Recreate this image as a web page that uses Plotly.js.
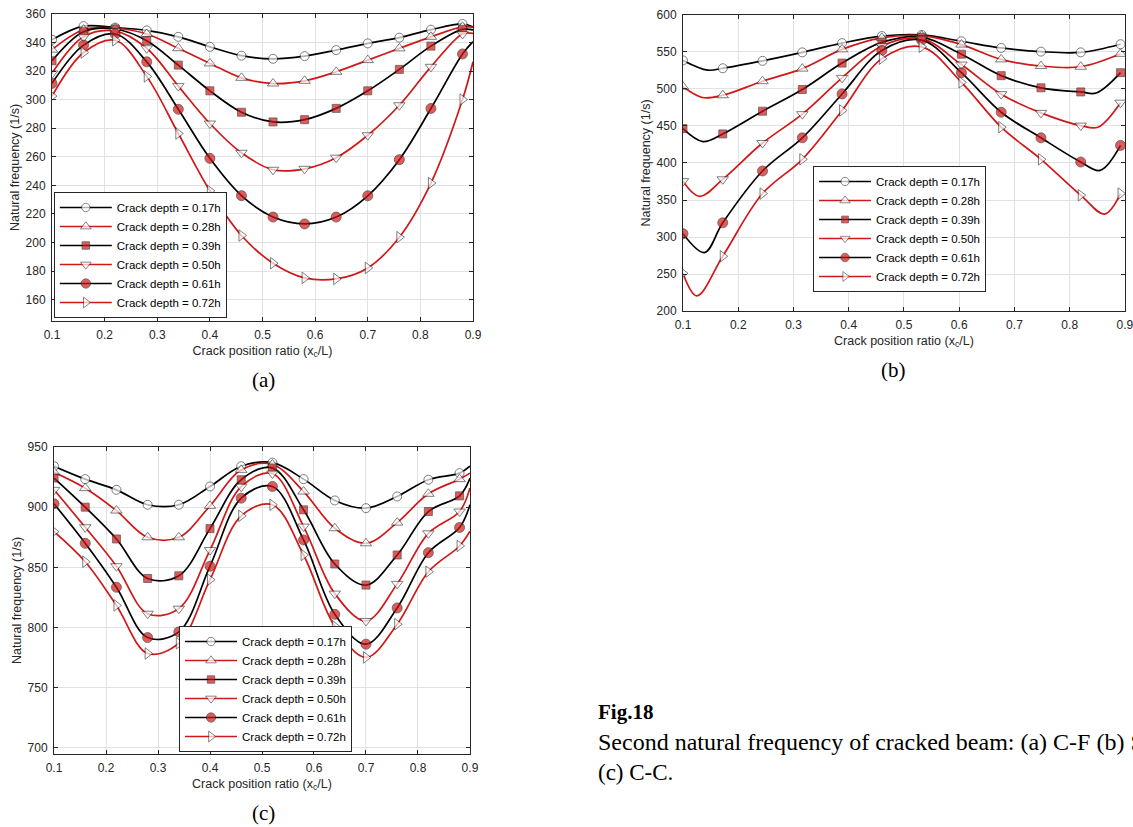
<!DOCTYPE html>
<html>
<head>
<meta charset="utf-8">
<script src="https://cdn.plot.ly/plotly-3.0.1.min.js"></script>
<style>
html,body{margin:0;padding:0;background:#fff;}
#chart{width:1133px;height:827px;}
</style>
</head>
<body>
<div id="chart"></div>
<script>
// ---------- legend labels ----------
const depthLabels = ['Crack depth = 0.17h','Crack depth = 0.28h','Crack depth = 0.39h',
                     'Crack depth = 0.50h','Crack depth = 0.61h','Crack depth = 0.72h'];

// ---------- (a) C-F ----------
const xA = [0.10,0.16,0.22,0.28,0.34,0.40,0.46,0.52,0.58,0.64,0.70,0.76,0.82,0.88];
const a017 = [342,351.5,350.5,348.5,344,337,330.8,328.6,330.5,334.7,339.4,343.4,349,353];
const a028 = [335,349,350,346,336,325.4,315.3,311.3,313.2,319.5,327.7,335.9,344,351];
const a039 = [327.2,347.6,349.5,341.3,324.2,306.2,291.2,284.4,286,293.9,306.2,321.2,337.5,349.2];
const a050 = [318.4,344,348,336,309.5,283.3,262.8,250.9,251.6,259.4,275.1,296.1,323,346];
const a061 = [311.4,338.2,346,326.5,293.3,258.9,232.8,217.8,213,217.8,232.7,258,293.8,332];
const a072 = [302.5,333,341.6,316.3,276.3,236.2,204.9,185.5,175.2,174.5,182.2,203.7,241.6,300.1];
// curve values where the lines meet the right edge (x = 0.9)
const aEndX = 0.9;
const aEnd = [351,350.6,348.8,346.4,340.6,326.5];

// ---------- (b) S-S ----------
const xB = [0.100,0.172,0.244,0.316,0.388,0.460,0.532,0.604,0.676,0.748,0.820,0.892];
const b017 = [538.6,528,538,549.5,562,571.5,573,564.5,555.5,550.5,549.5,560.5];
const b028 = [503,491.5,510.5,527.5,553.5,569,572,560,540,531,530,547.5];
const b039 = [446.5,439.3,470,499.3,535,563,570,547,518,501.6,496,522];
const b050 = [375.5,378,427,466,515,558,568,533,493,467.7,450.5,481.5];
const b061 = [304.5,319.2,389.2,434,493.3,552,566,522,468.6,434,401.3,423.8];
const b072 = [251,274,358.7,405,471,541,557,509,448.4,405,356.5,358.7];
// curve minima read between markers
const bDipLX = [0.145,0.135,0.136,0.130,0.139,0.125];
const bDipLY = [525.5,488.5,429,355,279,220.5];
const bDipRX = [null,null,0.848,0.851,0.855,0.863];
const bDipRY = [null,null,494.5,448.4,390,331];

// ---------- (c) C-C ----------
const xC = [0.10,0.16,0.22,0.28,0.34,0.40,0.46,0.52,0.58,0.64,0.70,0.76,0.82,0.88];
const c017 = [934,923.3,914.4,902,902,917.2,934,937,923.3,905.6,899.2,908.9,922.8,928.3];
const c028 = [929,915.8,897.2,875,875,901.1,931,935.5,913,882.5,870,887.2,911.1,923.3];
const c039 = [924.2,900,873.6,840.8,843,882.2,922.8,932.5,897.8,852.8,835.3,860.3,896.4,909.4];
const c050 = [914.4,883.3,851,811.5,815.7,864.4,917,928,883.9,828.2,805.5,836.3,878.3,896.4];
const c061 = [902.8,870,833.5,791.7,796.4,851,907.5,917.2,872.8,811,786.2,816.3,862.2,883.1];
const c072 = [879.7,854.7,818.4,778.5,787,839.8,892.8,902,860.3,801.1,775.2,802.8,846.4,867.8];
const cEndX = 0.9;
const cEnd = [934,928.3,924,916,902,880];

// ---------- styles ----------
const RED = '#d01818';
const lineColors = ['#000000',RED,'#000000',RED,'#000000',RED];
const symbols = ['circle','triangle-up','square','triangle-down','circle','triangle-right'];
const fills = ['#ffffff','#ffffff',RED,'#ffffff',RED,'#ffffff'];
const sizes = [9,10,8,10,10,10];
const FONT = 'Liberation Sans, Arial, Helvetica, sans-serif';
const SERIF = 'Liberation Serif, Times New Roman, serif';

function buildTraces(xMarks, ysList, extrasList, xa, ya, legendId) {
  return ysList.map((ys, i) => {
    const pts = xMarks.map((x, k) => ({x: x, y: ys[k], m: true}));
    (extrasList[i] || []).forEach(p => pts.push({x: p[0], y: p[1], m: false}));
    pts.sort((p, q) => p.x - q.x);
    return {
      type: 'scatter', mode: 'lines+markers',
      x: pts.map(p => p.x), y: pts.map(p => p.y),
      name: depthLabels[i], xaxis: xa, yaxis: ya, legend: legendId,
      line: {color: lineColors[i], width: 1.7, shape: 'spline', smoothing: 1},
      marker: {symbol: symbols[i], color: fills[i],
               size: pts.map(p => p.m ? sizes[i] : 0),
               line: {color: '#1a1a1a', width: pts.map(p => p.m ? 0.8 : 0)}}
    };
  });
}

const extrasA = aEnd.map(v => [[aEndX, v]]);
const extrasB = bDipLX.map((x, i) => {
  const e = [[x, bDipLY[i]]];
  if (bDipRX[i] !== null) e.push([bDipRX[i], bDipRY[i]]);
  return e;
});
const extrasC = cEnd.map(v => [[cEndX, v]]);

const traces = []
  .concat(buildTraces(xA, [a017,a028,a039,a050,a061,a072], extrasA, 'x', 'y', 'legend'))
  .concat(buildTraces(xB, [b017,b028,b039,b050,b061,b072], extrasB, 'x2', 'y2', 'legend2'))
  .concat(buildTraces(xC, [c017,c028,c039,c050,c061,c072], extrasC, 'x3', 'y3', 'legend3'));

function xAxis(domain, anchor) {
  return {
    domain: domain, anchor: anchor, range: [0.1, 0.9], tick0: 0.1, dtick: 0.1,
    showline: true, linecolor: '#262626', linewidth: 1, mirror: 'ticks',
    ticks: 'inside', ticklen: 4, tickcolor: '#262626',
    showgrid: true, gridcolor: '#e2e2e2', zeroline: false,
    tickfont: {family: FONT, size: 12, color: '#262626'}, ticklabelstandoff: 3,
    ticklabeloverflow: 'allow',
    title: {text: 'Crack position ratio (x<sub>c</sub>/L)', font: {family: FONT, size: 12.5, color: '#262626'}, standoff: 4}
  };
}
function yAxis(domain, anchor, range, dtick) {
  return {
    domain: domain, anchor: anchor, range: range, tick0: 0, dtick: dtick,
    showline: true, linecolor: '#262626', linewidth: 1, mirror: 'ticks',
    ticks: 'inside', ticklen: 4, tickcolor: '#262626',
    showgrid: true, gridcolor: '#e2e2e2', zeroline: false,
    tickfont: {family: FONT, size: 12, color: '#262626'}, ticklabelstandoff: 3,
    title: {text: 'Natural frequency (1/s)', font: {family: FONT, size: 12.5, color: '#262626'}, standoff: 3}
  };
}
function legendBox(x, yBottom) {
  return {x: x, y: yBottom, xanchor: 'left', yanchor: 'bottom', bgcolor: '#ffffff',
          bordercolor: '#262626', borderwidth: 1, itemwidth: 52, tracegroupgap: 0,
          font: {family: FONT, size: 11.5, color: '#000'}};
}
function capt(text, x, y, anchor, size) {
  return {text: text, x: x, y: y, xref: 'paper', yref: 'paper', xanchor: anchor, yanchor: 'middle',
          showarrow: false, font: {family: SERIF, size: size, color: '#000'}};
}

const layout = {
  width: 1133, height: 827,
  margin: {l: 0, r: 0, t: 0, b: 0},
  paper_bgcolor: '#ffffff', plot_bgcolor: '#ffffff',
  xaxis: xAxis([0.0459, 0.4175], 'y'),
  yaxis: yAxis([0.6118, 0.9831], 'x', [145, 360], 20),
  xaxis2: xAxis([0.6028, 0.9929], 'y2'),
  yaxis2: yAxis([0.6239, 0.9819], 'x2', [200, 600], 50),
  xaxis3: xAxis([0.0477, 0.4148], 'y3'),
  yaxis3: yAxis([0.0883, 0.4595], 'x3', [695, 950], 50),
  legend: legendBox(0.0475, 1 - 318/827),
  legend2: legendBox(0.7176, 1 - 292/827),
  legend3: legendBox(0.158, 1 - 752/827),
  annotations: [
    capt('(a)', 0.2330, 0.5405, 'center', 21),
    capt('(b)', 0.789, 0.5526, 'center', 21),
    capt('(c)', 0.2330, 0.0170, 'center', 21),
    capt('<b>Fig.18</b>', 0.5260, 0.139, 'left', 21),
    capt('Second natural frequency of cracked beam: (a) C-F (b) S-S', 0.5260, 0.1028, 'left', 24),
    capt('(c) C-C.', 0.5260, 0.0665, 'left', 23)
  ]
};

Plotly.newPlot('chart', traces, layout, {displayModeBar: false, staticPlot: true});
</script>
</body>
</html>
